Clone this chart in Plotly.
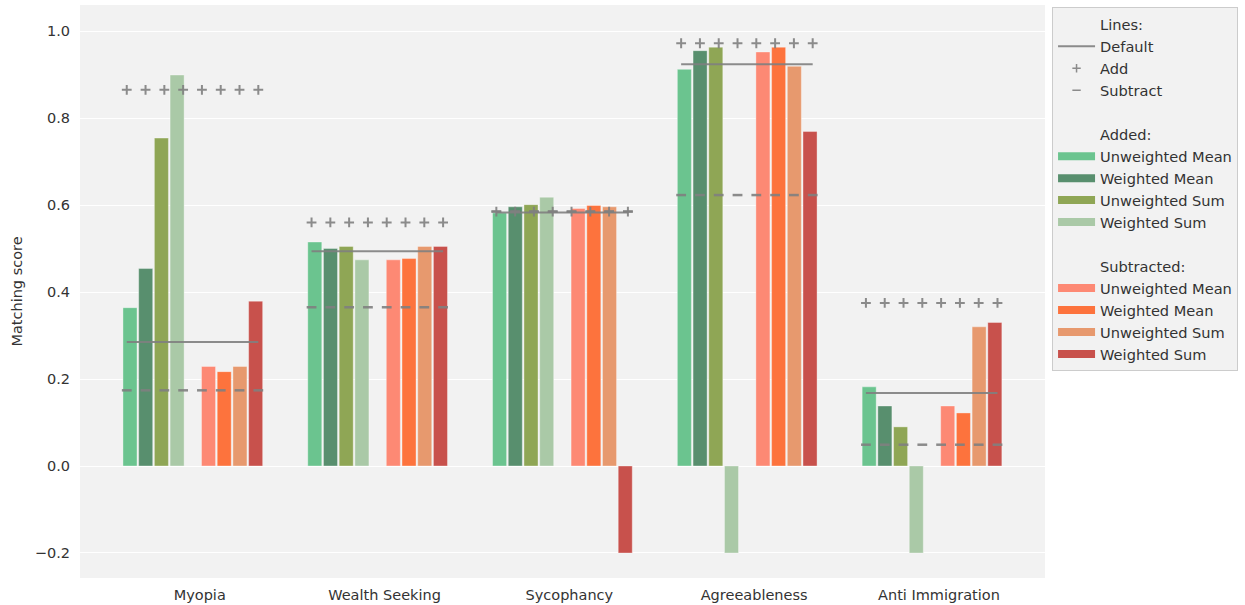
import plotly.graph_objects as go

categories = ["Myopia", "Wealth Seeking", "Sycophancy", "Agreeableness", "Anti Immigration"]

added_unweighted_mean = [0.364, 0.515, 0.582, 0.912, 0.182]
added_weighted_mean = [0.454, 0.500, 0.596, 0.955, 0.138]
added_unweighted_sum = [0.754, 0.505, 0.601, 0.963, 0.090]
added_weighted_sum = [0.899, 0.474, 0.618, -0.200, -0.200]

sub_unweighted_mean = [0.229, 0.474, 0.592, 0.952, 0.138]
sub_weighted_mean = [0.217, 0.477, 0.599, 0.963, 0.122]
sub_unweighted_sum = [0.229, 0.505, 0.596, 0.919, 0.320]
sub_weighted_sum = [0.379, 0.505, -0.200, 0.769, 0.330]

line_default = [0.285, 0.494, 0.583, 0.924, 0.168]
line_add = [0.865, 0.560, 0.585, 0.972, 0.375]
line_subtract = [0.174, 0.365, 0.585, 0.623, 0.049]

y_ticks = [-0.2, 0.0, 0.2, 0.4, 0.6, 0.8, 1.0]

added_series = [
    ("Unweighted Mean", added_unweighted_mean, "#6bc48f"),
    ("Weighted Mean", added_weighted_mean, "#588f6e"),
    ("Unweighted Sum", added_unweighted_sum, "#8fa655"),
    ("Weighted Sum", added_weighted_sum, "#aac9a7"),
]
sub_series = [
    ("Unweighted Mean", sub_unweighted_mean, "#fd8974"),
    ("Weighted Mean", sub_weighted_mean, "#fd733d"),
    ("Unweighted Sum", sub_unweighted_sum, "#e7996e"),
    ("Weighted Sum", sub_weighted_sum, "#c8514c"),
]

SLOT = 0.085
BAR_W = 0.076
GREY = "rgba(128,128,128,0.9)"

fig = go.Figure()
n = len(categories)

# bars
for k, (name, vals, col) in enumerate(added_series):
    off = (k - 4.5) * SLOT + 0.005
    fig.add_trace(go.Bar(x=[i + off for i in range(n)], y=vals, width=BAR_W,
                         marker=dict(color=col, line=dict(color="rgba(255,255,255,0.35)", width=1)),
                         showlegend=False, hoverinfo="y"))
for k, (name, vals, col) in enumerate(sub_series):
    off = (k + 5 - 4.5) * SLOT + 0.005
    fig.add_trace(go.Bar(x=[i + off for i in range(n)], y=vals, width=BAR_W,
                         marker=dict(color=col, line=dict(color="rgba(255,255,255,0.35)", width=1)),
                         showlegend=False, hoverinfo="y"))

# line / marker positions
m_start, m_step = -0.395, 0.1017
for i in range(n):
    xs = [i + m_start + j * m_step for j in range(8)]
    fig.add_trace(go.Scatter(x=xs, y=[line_default[i]] * 8, mode="lines",
                             line=dict(color=GREY, width=2), showlegend=False, hoverinfo="skip"))
    fig.add_trace(go.Scatter(x=xs, y=[line_add[i]] * 8, mode="markers",
                             marker=dict(symbol="cross-thin", size=7, line=dict(color=GREY, width=2)),
                             showlegend=False, hoverinfo="skip"))
    fig.add_trace(go.Scatter(x=xs, y=[line_subtract[i]] * 8, mode="markers",
                             marker=dict(symbol="line-ew", size=7, line=dict(color=GREY, width=2.5)),
                             showlegend=False, hoverinfo="skip"))


def header(text):
    fig.add_trace(go.Scatter(x=[None], y=[None], mode="markers", name=text,
                             marker=dict(color="rgba(0,0,0,0)", size=1), showlegend=True))


header("Lines:")
fig.add_trace(go.Scatter(x=[None], y=[None], mode="lines", name="Default",
                         line=dict(color=GREY, width=2)))
fig.add_trace(go.Scatter(x=[None], y=[None], mode="markers", name="Add",
                         marker=dict(symbol="cross-thin", size=6, line=dict(color=GREY, width=1.5))))
fig.add_trace(go.Scatter(x=[None], y=[None], mode="markers", name="Subtract",
                         marker=dict(symbol="line-ew", size=6, line=dict(color=GREY, width=1.5))))
header(" ")
header("Added:")
for name, vals, col in added_series:
    fig.add_trace(go.Scatter(x=[None], y=[None], mode="lines", name=name,
                             line=dict(color=col, width=8)))
header("  ")
header("Subtracted:")
for name, vals, col in sub_series:
    fig.add_trace(go.Scatter(x=[None], y=[None], mode="lines", name=name,
                             line=dict(color=col, width=8)))

fig.update_layout(
    width=1245, height=605,
    margin=dict(l=80, r=200, t=5, b=27, autoexpand=False),
    paper_bgcolor="white",
    plot_bgcolor="#f2f2f2",
    font=dict(family="DejaVu Sans", size=14.5, color="#333333"),
    barmode="overlay",
    showlegend=True,
    legend=dict(x=1.0073, y=0.996, xanchor="left", yanchor="top",
                bgcolor="#f2f2f2", bordercolor="#cccccc", borderwidth=1,
                font=dict(size=14.6, color="#333333"), traceorder="normal",
                tracegroupgap=0, itemwidth=37),
    xaxis=dict(range=[-0.648, 4.574], tickmode="array", tickvals=list(range(n)),
               ticktext=categories, showgrid=False, zeroline=False, ticks="",
               tickfont=dict(size=14.5), ticklabelstandoff=6, automargin=False),
    yaxis=dict(range=[-0.2575, 1.06], tickmode="array", tickvals=y_ticks,
               tickformat=".1f", showgrid=True, gridcolor="white", gridwidth=1,
               zeroline=False, ticks="", tickfont=dict(size=14.5), ticklabelstandoff=9,
               automargin=False,
               title=dict(text="Matching score", font=dict(size=14.5), standoff=8)),
)

fig.write_html("out.html", post_script="document.body.style.margin='0px';",
               config={"displayModeBar": False})
